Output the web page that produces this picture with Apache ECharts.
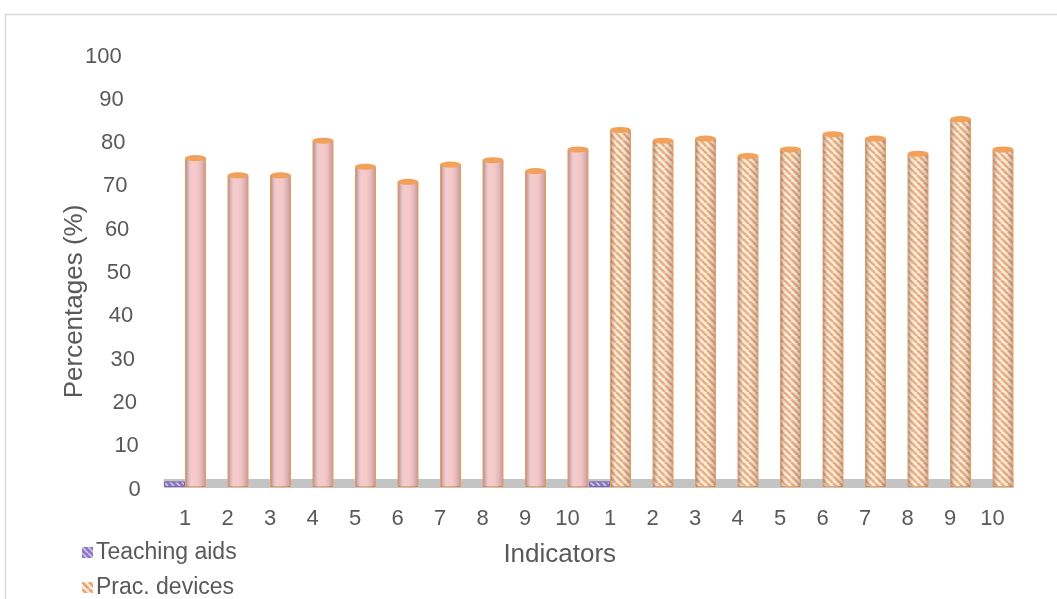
<!DOCTYPE html>
<html>
<head>
<meta charset="utf-8">
<script src="https://cdn.jsdelivr.net/npm/echarts@6/dist/echarts.min.js"></script>
<style>html,body{margin:0;padding:0;background:#fff;}#c{width:1057px;height:599px;}</style>
</head>
<body>
<div id="c"></div>
<script>
// ---- data ----
const categories = ['1','2','3','4','5','6','7','8','9','10','1','2','3','4','5','6','7','8','9','10'];
const teachingAids = [1.3, null, null, null, null, null, null, null, null, null, 1.3, null, null, null, null, null, null, null, null, null];
const pinkValues = [76, 72, 72, 80, 74, 70.5, 74.5, 75.5, 73, 78];
const pracDevices = [82.5, 80, 80.5, 76.5, 78, 81.5, 80.5, 77, 85, 78];
const yTicks = [0, 10, 20, 30, 40, 50, 60, 70, 80, 90, 100];

const pinkSeries = pinkValues.concat(new Array(10).fill(null));
const pracSeries = new Array(10).fill(null).concat(pracDevices);
const allTops = pinkValues.concat(pracDevices);

function stripePattern(bg, fg, size, lw) {
  const c = document.createElement('canvas');
  c.width = size; c.height = size;
  const g = c.getContext('2d');
  g.fillStyle = bg; g.fillRect(0, 0, size, size);
  g.strokeStyle = fg; g.lineWidth = lw;
  for (let k = -1; k <= 1; k++) {
    g.beginPath();
    g.moveTo(k * size, 0);
    g.lineTo(k * size + size, size);
    g.stroke();
  }
  return { image: c, repeat: 'repeat' };
}
const orangePattern = stripePattern('#fdebd8', '#e6a772', 7, 2.6);
const purplePattern = stripePattern('#8b78c4', '#d9d0f0', 6, 1.5);

const FONT = 'Liberation Sans, Arial, sans-serif';
const rich = {};
yTicks.forEach(v => { rich['s' + v] = { padding: [5, 0.19 * v, 0, 0], fontSize: 22, color: '#595959', fontFamily: FONT }; });

const legendCommon = {
  orient: 'vertical', left: 82, padding: 0, itemWidth: 11, itemHeight: 11,
  icon: 'rect', itemStyle: { borderWidth: 0 },
  textStyle: { fontSize: 23, color: '#595959', padding: [0, 0, 0, -2] }
};

const chart = echarts.init(document.getElementById('c'));
chart.setOption({
  animation: false,
  backgroundColor: '#fff',
  textStyle: { fontFamily: FONT },
  graphic: [{
    type: 'rect', left: 3, top: 12, shape: { width: 1200, height: 700 },
    style: { fill: 'none', stroke: '#d9d9d9', lineWidth: 1.5 }, silent: true, z: -10
  }],
  grid: { left: 163.75, right: 43.25, top: 54, bottom: 112, containLabel: false },
  legend: [
    Object.assign({ top: 541, data: ['Teaching aids'] }, legendCommon),
    Object.assign({ top: 576, data: ['Prac. devices'] }, legendCommon)
  ],
  xAxis: [{
    type: 'category', data: categories, offset: -4,
    axisLine: { show: true, lineStyle: { color: '#c4c4c4', width: 9, cap: 'butt' } },
    axisTick: { show: false },
    axisLabel: { fontSize: 22, color: '#595959', margin: 25, interval: 0 },
    name: 'Indicators', nameLocation: 'middle', nameGap: 59,
    nameTextStyle: { fontSize: 26, color: '#595959', padding: [0, 58, 0, 0] }
  }],
  yAxis: {
    type: 'value', min: 0, max: 100, interval: 10,
    axisLine: { show: false }, axisTick: { show: false }, splitLine: { show: false },
    axisLabel: { margin: 23, formatter: v => '{s' + v + '|' + v + '}', rich: rich },
    name: 'Percentages (%)', nameLocation: 'middle', nameGap: 76, nameMoveOverlap: false,
    nameTextStyle: { fontSize: 26, color: '#595959', padding: [0, 62, 0, 0] }
  },
  series: [
    {
      name: 'Teaching aids', type: 'bar', data: teachingAids, barWidth: 21, barGap: '0%',
      itemStyle: { color: purplePattern, borderColor: '#7a66b3', borderWidth: 1 }
    },
    {
      name: 'Pink', type: 'bar', stack: 'b', data: pinkSeries, barWidth: 21,
      itemStyle: { color: '#f4c4c4', borderColor: '#ef9a4e', borderWidth: 1 }
    },
    {
      name: 'Prac. devices', type: 'bar', stack: 'b', data: pracSeries, barWidth: 21,
      itemStyle: { color: orangePattern, borderColor: '#ef9a4e', borderWidth: 1 }
    },
    {
      name: 'shade', type: 'pictorialBar', data: allTops, symbol: 'rect',
      symbolSize: [19, '100%'], symbolOffset: [10.5, 0], symbolPosition: 'start', silent: true, z: 3,
      itemStyle: {
        color: {
          type: 'linear', x: 0, y: 0, x2: 1, y2: 0,
          colorStops: [
            { offset: 0, color: 'rgba(100,80,95,0.45)' },
            { offset: 0.3, color: 'rgba(255,255,255,0.12)' },
            { offset: 0.55, color: 'rgba(255,255,255,0.08)' },
            { offset: 0.85, color: 'rgba(120,90,100,0.18)' },
            { offset: 1, color: 'rgba(100,80,95,0.35)' }
          ]
        }
      }
    },
    {
      name: 'cap', type: 'pictorialBar', data: allTops, symbol: 'circle',
      symbolSize: [21, 6], symbolOffset: [10.5, '-50%'], symbolPosition: 'end', silent: true, z: 4,
      itemStyle: { color: '#f2a15a', borderColor: '#f6b27a', borderWidth: 0.5 }
    }
  ]
});
</script>
</body>
</html>
